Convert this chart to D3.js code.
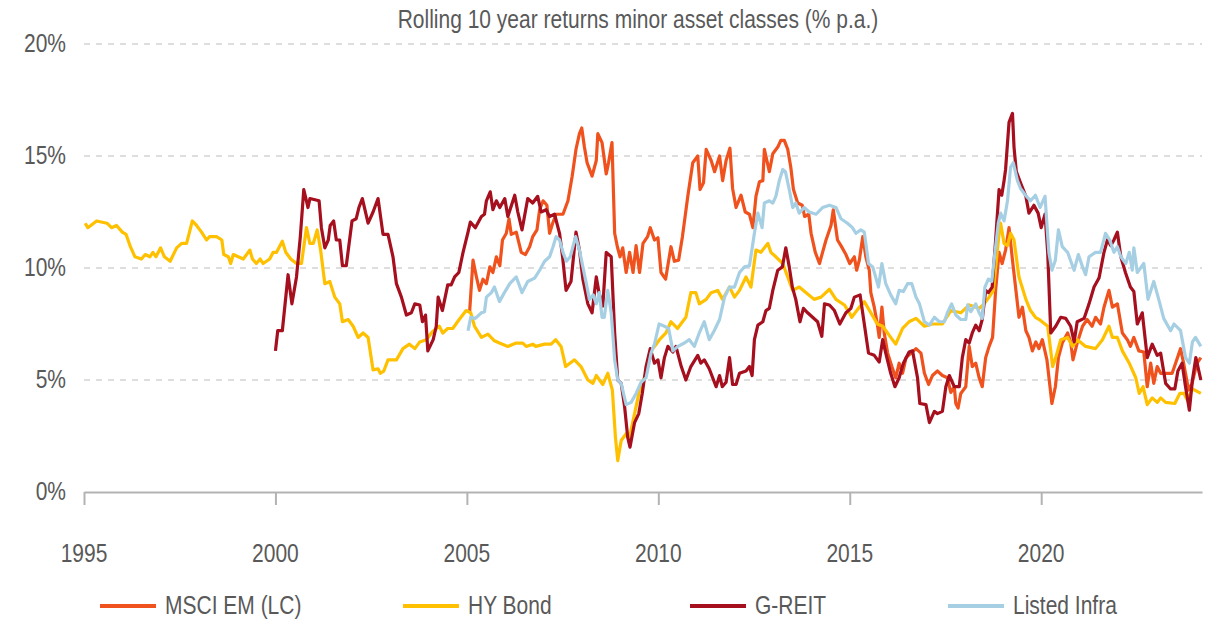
<!DOCTYPE html>
<html>
<head>
<meta charset="utf-8">
<script src="https://cdnjs.cloudflare.com/ajax/libs/d3/7.8.5/d3.min.js"></script>
<style>
  html, body { margin: 0; padding: 0; background: #fff; }
</style>
</head>
<body>
<svg id="chart" width="1207" height="620"></svg>
<script>
const title = 'Rolling 10 year returns minor asset classes (% p.a.)';

const yTicks = [0, 5, 10, 15, 20];
const xTicks = [1995, 2000, 2005, 2010, 2015, 2020];

// [decimal year, % p.a.]
const msciEm = [[2005.07,8.0],[2005.16,10.35],[2005.25,9.6],[2005.33,9.0],[2005.42,9.5],[2005.51,9.3],[2005.6,10.05],[2005.68,9.8],[2005.77,10.5],[2005.86,10.1],[2005.93,11.25],[2006.03,11.55],[2006.1,12.2],[2006.16,11.5],[2006.29,11.6],[2006.42,10.7],[2006.53,10.6],[2006.64,10.95],[2006.72,11.4],[2006.83,11.7],[2006.9,12.6],[2006.99,13.0],[2007.09,12.8],[2007.16,11.55],[2007.24,12.0],[2007.33,12.4],[2007.51,12.4],[2007.64,13.0],[2007.75,14.1],[2007.85,15.3],[2007.94,16.0],[2008.0,16.25],[2008.07,15.4],[2008.14,14.7],[2008.27,14.1],[2008.38,14.8],[2008.42,16.0],[2008.53,15.6],[2008.64,14.2],[2008.7,14.7],[2008.79,15.6],[2008.86,11.55],[2008.93,10.95],[2009.0,10.5],[2009.07,10.9],[2009.16,9.8],[2009.25,10.7],[2009.34,9.8],[2009.42,11.0],[2009.51,9.8],[2009.6,11.1],[2009.72,11.4],[2009.79,11.8],[2009.9,11.25],[2009.99,11.35],[2010.07,9.8],[2010.19,9.5],[2010.33,10.95],[2010.42,10.3],[2010.53,10.35],[2010.63,11.4],[2010.77,13.2],[2010.9,14.7],[2011.03,15.0],[2011.09,13.5],[2011.18,13.8],[2011.25,15.3],[2011.38,14.8],[2011.47,14.3],[2011.6,15.0],[2011.68,13.9],[2011.77,14.8],[2011.87,15.35],[2011.94,13.55],[2012.03,12.7],[2012.16,13.25],[2012.27,12.5],[2012.38,12.4],[2012.47,11.8],[2012.55,13.2],[2012.64,13.85],[2012.73,13.9],[2012.77,15.3],[2012.9,14.3],[2012.99,15.1],[2013.12,15.4],[2013.2,15.7],[2013.29,15.7],[2013.38,15.3],[2013.46,14.5],[2013.53,13.5],[2013.64,12.9],[2013.76,12.8],[2013.82,12.3],[2013.93,12.4],[2013.99,11.55],[2014.1,10.7],[2014.21,10.2],[2014.29,10.7],[2014.38,11.25],[2014.51,11.9],[2014.57,12.6],[2014.68,11.25],[2014.77,11.0],[2014.9,10.6],[2015.0,10.2],[2015.12,10.5],[2015.18,9.9],[2015.25,10.35],[2015.34,11.4],[2015.42,10.5],[2015.51,9.9],[2015.55,8.9],[2015.64,8.25],[2015.72,7.5],[2015.77,6.9],[2015.84,8.25],[2015.9,7.1],[2015.99,6.2],[2016.1,5.6],[2016.2,5.1],[2016.29,5.75],[2016.38,5.3],[2016.47,6.0],[2016.6,6.2],[2016.73,6.4],[2016.86,6.2],[2016.95,5.3],[2017.06,4.8],[2017.16,5.2],[2017.29,5.4],[2017.42,5.2],[2017.55,5.1],[2017.64,4.45],[2017.73,4.7],[2017.77,3.95],[2017.83,3.75],[2017.9,4.4],[2018.03,4.7],[2018.12,6.5],[2018.2,5.6],[2018.29,5.75],[2018.38,5.1],[2018.46,4.7],[2018.55,6.0],[2018.64,6.5],[2018.73,6.9],[2018.81,9.0],[2018.9,10.7],[2018.98,10.2],[2019.07,10.8],[2019.16,11.8],[2019.25,10.35],[2019.33,9.15],[2019.42,7.8],[2019.51,8.25],[2019.6,7.2],[2019.68,6.9],[2019.77,6.3],[2019.86,6.7],[2019.94,6.4],[2020.03,6.8],[2020.15,5.9],[2020.28,3.95],[2020.37,4.7],[2020.45,6.0],[2020.55,6.65],[2020.69,7.1],[2020.77,6.7],[2020.83,5.9],[2020.94,6.65],[2021.08,7.4],[2021.2,7.7],[2021.33,7.4],[2021.42,7.8],[2021.55,7.5],[2021.64,8.25],[2021.77,9.0],[2021.86,8.25],[2021.99,8.4],[2022.12,7.1],[2022.25,6.8],[2022.33,6.5],[2022.42,6.9],[2022.55,6.3],[2022.68,6.25],[2022.77,4.7],[2022.86,5.75],[2022.94,4.85],[2023.03,5.6],[2023.12,5.3],[2023.25,5.3],[2023.42,5.3],[2023.51,5.75],[2023.64,6.4],[2023.72,5.75],[2023.85,4.55],[2023.94,4.85],[2024.07,5.75],[2024.17,6.0]];

const hyBond = [[1995.03,12.0],[1995.1,11.8],[1995.33,12.1],[1995.6,12.0],[1995.72,11.8],[1995.85,11.9],[1996.0,11.6],[1996.1,11.5],[1996.2,11.0],[1996.33,10.5],[1996.5,10.4],[1996.6,10.6],[1996.72,10.5],[1996.8,10.7],[1996.88,10.5],[1997.0,10.9],[1997.1,10.5],[1997.25,10.3],[1997.42,10.9],[1997.55,11.1],[1997.68,11.1],[1997.83,12.1],[1997.94,11.9],[1998.07,11.6],[1998.2,11.25],[1998.28,11.4],[1998.46,11.4],[1998.6,11.25],[1998.65,10.6],[1998.77,10.5],[1998.83,10.2],[1998.9,10.6],[1999.16,10.4],[1999.33,10.8],[1999.4,10.4],[1999.5,10.2],[1999.6,10.4],[1999.68,10.2],[1999.85,10.4],[1999.94,10.7],[2000.03,10.7],[2000.18,11.2],[2000.27,10.7],[2000.4,10.4],[2000.55,10.2],[2000.68,10.2],[2000.81,11.8],[2000.9,11.1],[2000.99,11.1],[2001.09,11.7],[2001.18,10.8],[2001.29,9.3],[2001.42,9.4],[2001.55,8.7],[2001.68,8.4],[2001.75,7.6],[2001.9,7.7],[2002.03,7.4],[2002.16,6.9],[2002.29,7.1],[2002.42,6.9],[2002.55,5.45],[2002.68,5.5],[2002.74,5.3],[2002.83,5.4],[2002.94,5.9],[2003.16,5.9],[2003.33,6.4],[2003.5,6.6],[2003.64,6.4],[2003.77,6.7],[2003.94,6.8],[2004.1,7.15],[2004.28,7.4],[2004.37,7.1],[2004.5,7.3],[2004.63,7.3],[2004.8,7.7],[2004.98,8.1],[2005.1,8.0],[2005.2,7.4],[2005.38,6.9],[2005.55,7.05],[2005.72,6.75],[2005.85,6.65],[2006.07,6.5],[2006.29,6.65],[2006.46,6.65],[2006.55,6.5],[2006.72,6.6],[2006.8,6.5],[2007.03,6.6],[2007.2,6.6],[2007.32,6.8],[2007.46,6.5],[2007.58,5.6],[2007.81,5.9],[2007.98,5.6],[2008.16,5.0],[2008.29,4.85],[2008.38,5.2],[2008.55,4.8],[2008.68,5.3],[2008.8,4.55],[2008.88,2.45],[2008.94,1.4],[2009.03,2.3],[2009.16,2.6],[2009.25,2.45],[2009.38,3.5],[2009.51,4.55],[2009.68,5.3],[2009.81,6.3],[2009.9,6.5],[2010.03,6.8],[2010.2,7.1],[2010.33,7.6],[2010.5,7.3],[2010.72,7.8],[2010.85,8.9],[2010.98,8.9],[2011.07,8.4],[2011.25,8.6],[2011.38,8.9],[2011.55,9.0],[2011.68,8.6],[2011.86,9.15],[2011.99,8.7],[2012.12,9.0],[2012.29,9.6],[2012.42,9.15],[2012.55,10.8],[2012.68,10.7],[2012.86,11.1],[2012.94,10.7],[2013.07,10.5],[2013.25,10.2],[2013.38,9.6],[2013.51,9.0],[2013.68,9.15],[2013.86,8.9],[2014.07,8.6],[2014.25,8.7],[2014.47,9.05],[2014.64,8.6],[2014.86,8.35],[2014.99,8.0],[2015.05,7.8],[2015.25,8.25],[2015.38,8.5],[2015.55,8.0],[2015.72,7.5],[2015.86,7.4],[2016.07,6.9],[2016.2,6.6],[2016.38,7.3],[2016.55,7.6],[2016.73,7.75],[2016.95,7.4],[2017.16,7.5],[2017.42,7.5],[2017.64,8.1],[2017.9,8.0],[2018.12,8.35],[2018.38,8.2],[2018.51,8.4],[2018.64,8.7],[2018.75,9.0],[2018.9,11.55],[2018.94,12.0],[2019.03,11.1],[2019.12,11.0],[2019.2,11.55],[2019.29,11.25],[2019.42,9.6],[2019.6,8.6],[2019.72,8.1],[2019.85,7.8],[2019.95,7.7],[2020.17,7.4],[2020.3,5.6],[2020.38,6.0],[2020.51,6.8],[2020.69,6.9],[2020.82,6.5],[2020.95,6.8],[2021.16,6.5],[2021.42,6.4],[2021.6,6.8],[2021.77,7.4],[2021.86,6.9],[2021.99,6.9],[2022.12,6.3],[2022.3,5.75],[2022.47,5.1],[2022.56,4.4],[2022.66,4.7],[2022.77,3.9],[2022.9,4.2],[2023.03,4.0],[2023.12,4.2],[2023.25,4.0],[2023.49,3.95],[2023.62,4.4],[2023.73,4.4],[2023.82,4.1],[2023.95,4.6],[2024.17,4.4]];

const gReit = [[2000.0,6.3],[2000.06,7.2],[2000.18,7.2],[2000.33,9.7],[2000.43,8.4],[2000.55,9.6],[2000.65,11.4],[2000.74,13.5],[2000.81,13.0],[2000.85,12.7],[2000.9,13.1],[2001.14,13.0],[2001.2,11.8],[2001.29,10.9],[2001.38,11.25],[2001.43,11.9],[2001.52,12.1],[2001.59,11.25],[2001.68,11.25],[2001.75,10.1],[2001.85,10.1],[2002.0,12.1],[2002.11,12.2],[2002.18,12.7],[2002.27,13.1],[2002.42,12.0],[2002.55,12.5],[2002.68,13.1],[2002.81,11.5],[2002.94,11.5],[2003.07,10.5],[2003.16,9.3],[2003.29,8.7],[2003.42,7.9],[2003.55,8.0],[2003.64,8.4],[2003.77,8.35],[2003.84,7.6],[2003.92,7.9],[2003.98,6.3],[2004.12,6.8],[2004.2,7.4],[2004.25,8.7],[2004.36,8.1],[2004.5,9.25],[2004.59,9.25],[2004.68,9.6],[2004.79,9.8],[2004.9,10.7],[2005.03,11.6],[2005.09,12.05],[2005.22,11.8],[2005.38,12.3],[2005.46,12.4],[2005.51,13.0],[2005.61,13.4],[2005.68,12.6],[2005.77,13.0],[2005.86,12.7],[2005.99,13.1],[2006.07,12.3],[2006.25,13.25],[2006.33,12.5],[2006.44,11.7],[2006.59,13.1],[2006.72,12.9],[2006.85,13.2],[2006.94,12.5],[2007.07,12.6],[2007.16,12.3],[2007.29,12.4],[2007.42,11.55],[2007.5,10.5],[2007.59,9.0],[2007.72,9.4],[2007.85,11.6],[2007.94,10.8],[2008.03,9.5],[2008.16,8.4],[2008.27,8.0],[2008.38,9.6],[2008.45,8.9],[2008.55,8.3],[2008.64,10.7],[2008.77,10.5],[2008.86,7.1],[2008.94,5.0],[2009.03,4.85],[2009.12,3.8],[2009.2,2.45],[2009.26,2.0],[2009.38,3.1],[2009.49,3.5],[2009.58,4.4],[2009.68,5.6],[2009.79,6.4],[2009.9,5.75],[2009.99,5.9],[2010.07,5.1],[2010.16,6.0],[2010.25,6.5],[2010.38,6.25],[2010.46,6.5],[2010.6,5.6],[2010.72,5.0],[2010.85,5.6],[2011.03,6.1],[2011.11,5.75],[2011.2,5.9],[2011.33,5.5],[2011.51,4.7],[2011.6,5.2],[2011.67,4.7],[2011.77,4.9],[2011.86,6.0],[2011.94,4.8],[2012.03,4.8],[2012.12,5.3],[2012.29,5.4],[2012.38,5.6],[2012.45,5.2],[2012.51,6.8],[2012.6,7.45],[2012.73,7.6],[2012.81,8.1],[2012.9,8.2],[2012.99,9.0],[2013.12,9.9],[2013.24,10.05],[2013.33,10.9],[2013.42,10.05],[2013.5,9.15],[2013.59,8.6],[2013.7,7.6],[2013.79,8.2],[2013.9,8.0],[2014.03,7.8],[2014.16,7.6],[2014.27,6.95],[2014.34,8.4],[2014.47,8.35],[2014.6,8.1],[2014.74,7.5],[2014.9,8.0],[2015.03,8.2],[2015.12,8.7],[2015.27,8.8],[2015.38,7.5],[2015.49,6.2],[2015.64,6.1],[2015.77,5.8],[2015.86,6.8],[2015.94,6.2],[2016.07,5.3],[2016.18,4.7],[2016.29,5.1],[2016.4,5.75],[2016.55,6.25],[2016.64,6.3],[2016.77,5.1],[2016.83,3.95],[2016.99,3.9],[2017.08,3.1],[2017.21,3.6],[2017.29,3.5],[2017.42,3.6],[2017.51,4.7],[2017.6,5.2],[2017.73,4.7],[2017.86,4.7],[2017.94,6.0],[2018.03,6.8],[2018.12,6.65],[2018.2,7.1],[2018.29,7.45],[2018.38,7.2],[2018.46,7.7],[2018.55,9.0],[2018.62,8.9],[2018.72,9.15],[2018.81,11.25],[2018.9,13.5],[2018.97,13.25],[2019.03,13.9],[2019.07,14.4],[2019.16,16.5],[2019.25,16.9],[2019.29,15.4],[2019.35,14.3],[2019.46,13.8],[2019.6,13.2],[2019.68,12.45],[2019.81,12.8],[2019.92,12.45],[2020.0,11.8],[2020.1,12.4],[2020.17,10.7],[2020.25,7.1],[2020.38,7.4],[2020.51,7.8],[2020.64,7.75],[2020.77,7.4],[2020.86,6.7],[2020.94,7.6],[2021.12,7.75],[2021.25,8.4],[2021.38,9.15],[2021.51,9.55],[2021.64,10.7],[2021.73,11.25],[2021.82,11.0],[2021.9,11.25],[2021.99,11.6],[2022.08,10.5],[2022.2,9.8],[2022.33,9.15],[2022.42,8.95],[2022.51,7.5],[2022.64,8.0],[2022.77,6.0],[2022.9,6.6],[2023.03,6.1],[2023.12,6.2],[2023.25,4.85],[2023.38,4.6],[2023.49,4.6],[2023.57,5.4],[2023.68,5.75],[2023.77,4.7],[2023.87,3.65],[2023.95,5.0],[2024.04,6.0],[2024.17,5.0]];

const listedInfra = [[2005.03,7.2],[2005.1,7.8],[2005.22,7.75],[2005.38,8.0],[2005.46,8.05],[2005.51,8.7],[2005.64,8.9],[2005.72,9.15],[2005.85,8.5],[2005.98,8.9],[2006.12,9.3],[2006.29,9.6],[2006.44,8.9],[2006.59,9.4],[2006.77,9.55],[2006.9,9.9],[2007.03,10.3],[2007.16,10.5],[2007.25,10.95],[2007.33,11.4],[2007.42,11.25],[2007.51,10.7],[2007.6,10.3],[2007.7,10.5],[2007.84,11.4],[2007.94,10.8],[2008.03,10.05],[2008.12,9.3],[2008.2,8.6],[2008.3,8.8],[2008.38,8.4],[2008.46,8.9],[2008.53,7.8],[2008.59,7.8],[2008.68,9.0],[2008.77,8.0],[2008.86,5.9],[2008.94,5.0],[2009.03,4.85],[2009.16,3.9],[2009.29,4.0],[2009.42,4.4],[2009.55,4.9],[2009.68,5.1],[2009.81,6.2],[2009.9,6.6],[2010.02,7.5],[2010.16,7.4],[2010.27,7.3],[2010.38,6.3],[2010.51,6.5],[2010.68,6.65],[2010.81,6.8],[2010.94,6.5],[2011.07,7.1],[2011.2,7.6],[2011.33,6.8],[2011.46,7.2],[2011.6,7.7],[2011.73,8.7],[2011.86,9.15],[2011.99,9.15],[2012.12,9.8],[2012.25,10.05],[2012.38,10.1],[2012.51,11.55],[2012.6,12.45],[2012.71,11.8],[2012.77,12.9],[2012.9,13.0],[2012.99,12.9],[2013.07,13.2],[2013.16,13.9],[2013.25,14.4],[2013.32,14.3],[2013.42,13.5],[2013.51,12.7],[2013.59,12.9],[2013.68,12.45],[2013.81,12.7],[2013.94,12.5],[2014.12,12.4],[2014.29,12.7],[2014.47,12.8],[2014.64,12.7],[2014.77,12.2],[2014.94,12.0],[2015.07,11.8],[2015.16,11.55],[2015.29,11.7],[2015.38,11.6],[2015.49,10.2],[2015.6,10.05],[2015.75,9.15],[2015.84,10.2],[2015.94,9.3],[2016.07,8.8],[2016.2,8.4],[2016.29,9.0],[2016.4,8.95],[2016.51,9.3],[2016.62,9.3],[2016.73,8.7],[2016.82,8.4],[2016.95,7.6],[2017.08,7.45],[2017.21,7.8],[2017.34,7.6],[2017.47,7.6],[2017.55,8.0],[2017.66,8.4],[2017.77,7.9],[2017.9,7.7],[2018.03,7.7],[2018.08,8.35],[2018.16,8.05],[2018.29,8.4],[2018.38,8.0],[2018.46,7.75],[2018.53,9.15],[2018.62,9.5],[2018.71,9.4],[2018.8,10.8],[2018.88,12.0],[2018.94,12.45],[2019.03,12.1],[2019.12,13.0],[2019.2,14.5],[2019.27,14.7],[2019.38,13.9],[2019.46,13.55],[2019.59,13.25],[2019.72,13.0],[2019.85,13.25],[2019.97,12.7],[2020.1,13.2],[2020.2,10.7],[2020.28,9.9],[2020.37,10.35],[2020.45,11.7],[2020.55,10.95],[2020.69,10.7],[2020.86,9.9],[2020.97,10.6],[2021.08,10.05],[2021.16,9.7],[2021.25,10.5],[2021.42,10.7],[2021.55,10.7],[2021.68,11.55],[2021.79,11.25],[2021.9,10.7],[2021.99,10.95],[2022.08,10.5],[2022.21,10.2],[2022.3,10.7],[2022.38,9.9],[2022.42,10.9],[2022.51,9.8],[2022.68,10.2],[2022.79,8.6],[2022.94,9.4],[2023.07,8.6],[2023.2,7.75],[2023.38,7.2],[2023.47,7.5],[2023.64,7.2],[2023.77,6.0],[2023.87,5.75],[2023.95,6.7],[2024.03,6.9],[2024.17,6.5]];

const seriesNames = ['MSCI EM (LC)', 'HY Bond', 'G-REIT', 'Listed Infra'];
const seriesValues = [msciEm, hyBond, gReit, listedInfra];

const colors = ['#f0521e', '#ffc000', '#a50f1e', '#a6cfe4'];

const margin = { top: 44, right: 5, bottom: 128, left: 84 };
const width = 1207;
const height = 620;
const innerHeight = height - margin.top - margin.bottom;

// the original uses a narrow face; squeeze the regular one to match
const fontFamily = "'Liberation Sans', Arial, sans-serif";
const fontSize = 25;
const squeeze = 0.84;
const textColor = '#595959';

const svg = d3.select('#chart');

const x = d3.scaleLinear()
  .domain([1995, 2024.2])
  .range([margin.left, width - margin.right]);
const y = d3.scaleLinear()
  .domain([0, 20])
  .range([margin.top + innerHeight, margin.top]);

// Dashed gridlines
svg.append('g')
  .selectAll('line')
  .data(yTicks.filter(d => d > 0))
  .enter().append('line')
    .attr('x1', x.range()[0])
    .attr('x2', x.range()[1])
    .attr('y1', d => y(d))
    .attr('y2', d => y(d))
    .attr('stroke', '#d4d4d4')
    .attr('stroke-width', 1.5)
    .attr('stroke-dasharray', '6,6');

// X axis line and ticks
const xAxis = d3.axisBottom(x)
  .tickValues(xTicks)
  .tickSize(13)
  .tickSizeOuter(0)
  .tickFormat('');
svg.append('g')
  .attr('transform', `translate(0, ${y(0)})`)
  .call(xAxis)
  .call(g => g.select('.domain').attr('stroke', '#b3b3b3').attr('stroke-width', 2))
  .call(g => g.selectAll('.tick line').attr('stroke', '#b3b3b3').attr('stroke-width', 2))
  .call(g => g.selectAll('.tick text').remove());

// Lines
const line = d3.line()
  .x(d => x(d[0]))
  .y(d => y(d[1]));

svg.append('g')
  .selectAll('path')
  .data(seriesValues)
  .enter().append('path')
    .attr('d', line)
    .attr('fill', 'none')
    .attr('stroke', (d, i) => colors[i])
    .attr('stroke-width', 3.2)
    .attr('stroke-linejoin', 'round');

// Legend swatches
const legendX = [100, 403, 690, 948];
const legendY = 606;
svg.append('g')
  .selectAll('line')
  .data(seriesNames)
  .enter().append('line')
    .attr('x1', (d, i) => legendX[i])
    .attr('x2', (d, i) => legendX[i] + 56)
    .attr('y1', legendY)
    .attr('y2', legendY)
    .attr('stroke', (d, i) => colors[i])
    .attr('stroke-width', 4);

// All texts sit in one horizontally squeezed layer
const textLayer = svg.append('g')
  .attr('transform', `scale(${squeeze}, 1)`)
  .attr('font-family', fontFamily)
  .attr('font-size', fontSize)
  .attr('fill', textColor);

textLayer.append('text')
  .attr('x', 638 / squeeze)
  .attr('y', 28)
  .attr('text-anchor', 'middle')
  .text(title);

textLayer.selectAll('.y-label')
  .data(yTicks)
  .enter().append('text')
    .attr('class', 'y-label')
    .attr('x', (margin.left - 18) / squeeze)
    .attr('y', d => y(d) + 8)
    .attr('text-anchor', 'end')
    .text(d => d + '%');

textLayer.selectAll('.x-label')
  .data(xTicks)
  .enter().append('text')
    .attr('class', 'x-label')
    .attr('x', d => x(d) / squeeze)
    .attr('y', y(0) + 70)
    .attr('text-anchor', 'middle')
    .text(d3.format('d'));

textLayer.selectAll('.legend-label')
  .data(seriesNames)
  .enter().append('text')
    .attr('class', 'legend-label')
    .attr('x', (d, i) => (legendX[i] + 65) / squeeze)
    .attr('y', legendY + 8)
    .text(d => d);
</script>
</body>
</html>
